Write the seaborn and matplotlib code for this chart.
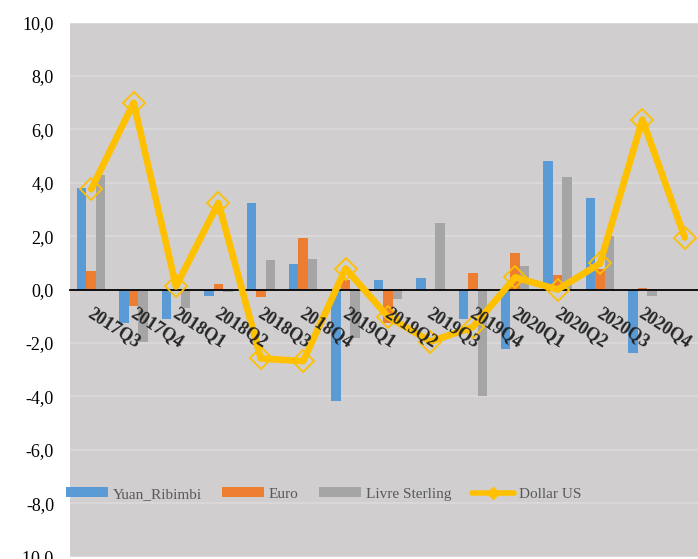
import numpy as np
import pandas as pd
import matplotlib
matplotlib.use("Agg")
import matplotlib.pyplot as plt
import matplotlib.transforms as mtransforms
from matplotlib.patches import Patch
from matplotlib.lines import Line2D
import seaborn as sns

# Quarterly variation (%) of exchange rates
quarters = ["2017Q3", "2017Q4", "2018Q1", "2018Q2", "2018Q3", "2018Q4",
            "2019Q1", "2019Q2", "2019Q3", "2019Q4", "2020Q1", "2020Q2",
            "2020Q3", "2020Q4", ""]
yuan = [3.80, -1.24, -1.12, -0.24, 3.23, 0.96, -4.18, 0.36, 0.44, -1.12,
        -2.24, 4.80, 3.42, -2.37, 0.0]
euro = [0.70, -0.62, 0.00, 0.20, -0.27, 1.93, 0.36, -1.24, 0.00, 0.63,
        1.36, 0.54, 0.77, 0.07, 0.0]
livre = [4.29, -1.95, -0.70, -0.10, 1.10, 1.14, -1.80, -0.36, 2.48, -3.98,
         0.90, 4.21, 2.02, -0.24, 0.0]
dollar = [3.76, 7.00, 0.12, 3.25, -2.58, -2.68, 0.79, -1.02, -1.95, -1.40,
          0.46, 0.00, 0.98, 6.37, 1.95]

series_names = ["Yuan_Ribimbi", "Euro", "Livre Sterling"]
line_name = "Dollar US"
yticks = [-10, -8, -6, -4, -2, 0, 2, 4, 6, 8, 10]

colors = {"Yuan_Ribimbi": "#5B9BD5", "Euro": "#ED7D31", "Livre Sterling": "#A5A5A5"}
line_color = "#FFC000"

bars = pd.DataFrame({
    "quarter": quarters * 3,
    "devise": sum([[n] * len(quarters) for n in series_names], []),
    "valeur": yuan + euro + livre,
})
line = pd.DataFrame({"quarter": quarters, "valeur": dollar})

sns.set_style("white")
plt.rcParams["font.family"] = ["Liberation Serif", "DejaVu Serif"]

W, H = 698, 559
fig = plt.figure(figsize=(W / 100, H / 100), dpi=100, facecolor="white")
ax_left, ax_width = 70 / W, 636 / W
ax_bottom, ax_height = 1 - 556.5 / H, 533.8 / H
ax = fig.add_axes([ax_left, ax_bottom, ax_width, ax_height])
ax.set_facecolor("#D0CECE")

sns.barplot(data=bars, x="quarter", y="valeur", hue="devise",
            order=quarters, hue_order=series_names, palette=colors,
            saturation=1, width=0.667, gap=0, linewidth=0, errorbar=None,
            legend=False, ax=ax, zorder=2)

sns.pointplot(data=line, x="quarter", y="valeur", order=quarters,
              color=line_color, markers="D", linestyles="-",
              errorbar=None, ax=ax, linewidth=4.8, markersize=11.5,
              markerfacecolor="none", markeredgecolor=line_color,
              markeredgewidth=1.3, zorder=4)

ax.set_xlim(-0.5, len(quarters) - 0.5)
ax.set_ylim(-10, 10)

# y axis: gridlines and decimal-comma labels
ax.set_yticks(yticks)
ax.set_yticklabels([f"{v:.1f}".replace(".", ",") for v in yticks])
ax.tick_params(axis="y", length=0, pad=11.5, labelsize=13, labelcolor="black")
for v in yticks:
    if v != 0:
        ax.axhline(v, color="#DCDADA", lw=1.2, zorder=1)

# x axis line at zero with category boundary ticks
for s in ["left", "right", "top"]:
    ax.spines[s].set_visible(False)
ax.spines["bottom"].set_position(("data", 0))
ax.spines["bottom"].set_color("black")
ax.spines["bottom"].set_linewidth(1.3)
ax.spines["bottom"].set_zorder(3)
ax.xaxis.set_zorder(5)

ax.set_xticks(np.arange(len(quarters) + 1) - 0.5)
ax.set_xticklabels([])
ax.tick_params(axis="x", which="major", direction="out", length=5,
               width=1.3, color="black")
ax.set_xticks(np.arange(len(quarters)), minor=True)
ax.set_xticklabels(quarters, minor=True)
ax.tick_params(axis="x", which="minor", length=0, pad=10.5, labelsize=13)
shift = mtransforms.ScaledTranslation(3 / 100, 0, fig.dpi_scale_trans)
for lab in ax.get_xticklabels(minor=True):
    lab.set_rotation(-33)
    lab.set_ha("left")
    lab.set_va("top")
    lab.set_rotation_mode("anchor")
    lab.set_fontweight("bold")
    lab.set_transform(lab.get_transform() + shift)

ax.set_xlabel("")
ax.set_ylabel("")

handles = [Patch(facecolor=colors[n], edgecolor="none") for n in series_names]
handles.append(Line2D([], [], color=line_color, lw=4, marker="D", ms=6.5,
                      markerfacecolor=line_color, markeredgecolor=line_color))
leg = fig.legend(handles, series_names + [line_name], ncol=4,
                 loc="center left", bbox_to_anchor=(66 / W, 1 - 494 / H),
                 frameon=False, fontsize=11, handlelength=2.75,
                 handleheight=0.65, handletextpad=0.3, columnspacing=1.35,
                 borderpad=0, borderaxespad=0, labelcolor="#595959")

fig.savefig("out.png", dpi=100, facecolor="white")
